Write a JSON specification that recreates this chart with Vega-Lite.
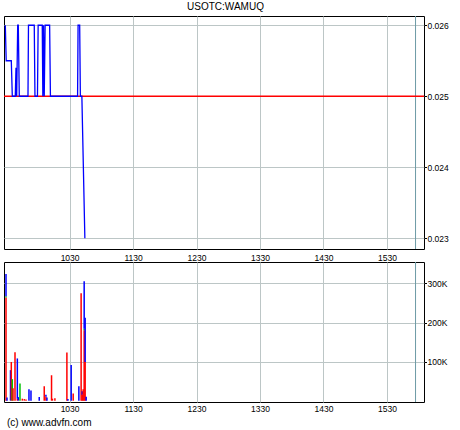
{
  "$schema": "https://vega.github.io/schema/vega-lite/v6.json",
  "padding": {"left": 2, "top": 2, "right": 0, "bottom": 0},
  "background": "white",
  "title": {"text": "USOTC:WAMUQ", "font": "Liberation Sans", "fontSize": 10, "fontWeight": "normal", "color": "black", "offset": 3, "anchor": "middle"},
  "spacing": -2,
  "config": {
    "view": {"stroke": "black", "strokeWidth": 1},
    "axis": {"labelFont": "Liberation Sans", "labelFontSize": 8.5, "labelColor": "black", "gridColor": "#bcc6c6", "gridOpacity": 1, "gridWidth": 1, "domain": false, "tickColor": "black", "title": null}
  },
  "datasets": {
    "price": [
      {"time": "2008-10-01T09:29:15", "price": 0.026},
      {"time": "2008-10-01T09:30:05", "price": 0.0255},
      {"time": "2008-10-01T09:34:54", "price": 0.0255},
      {"time": "2008-10-01T09:35:51", "price": 0.025},
      {"time": "2008-10-01T09:38:40", "price": 0.025},
      {"time": "2008-10-01T09:39:20", "price": 0.0254},
      {"time": "2008-10-01T09:40:00", "price": 0.025},
      {"time": "2008-10-01T09:40:57", "price": 0.026},
      {"time": "2008-10-01T09:41:31", "price": 0.026},
      {"time": "2008-10-01T09:42:27", "price": 0.025},
      {"time": "2008-10-01T09:50:40", "price": 0.025},
      {"time": "2008-10-01T09:51:08", "price": 0.026},
      {"time": "2008-10-01T09:56:36", "price": 0.026},
      {"time": "2008-10-01T09:57:16", "price": 0.025},
      {"time": "2008-10-01T09:59:38", "price": 0.025},
      {"time": "2008-10-01T10:00:17", "price": 0.026},
      {"time": "2008-10-01T10:04:09", "price": 0.026},
      {"time": "2008-10-01T10:04:43", "price": 0.025},
      {"time": "2008-10-01T10:05:23", "price": 0.026},
      {"time": "2008-10-01T10:06:02", "price": 0.025},
      {"time": "2008-10-01T10:06:53", "price": 0.026},
      {"time": "2008-10-01T10:11:08", "price": 0.026},
      {"time": "2008-10-01T10:11:53", "price": 0.025},
      {"time": "2008-10-01T10:37:33", "price": 0.025},
      {"time": "2008-10-01T10:38:01", "price": 0.026},
      {"time": "2008-10-01T10:39:32", "price": 0.026},
      {"time": "2008-10-01T10:40:11", "price": 0.025},
      {"time": "2008-10-01T10:41:36", "price": 0.025},
      {"time": "2008-10-01T10:44:26", "price": 0.023}
    ],
    "volume": [
      {"time": "2008-10-01T09:29:54", "tick": "down", "volume": 264000},
      {"time": "2008-10-01T09:29:54", "tick": "neutral", "volume": 3000},
      {"time": "2008-10-01T09:29:54", "tick": "up", "volume": 57000},
      {"time": "2008-10-01T09:30:51", "tick": "up", "volume": 8000},
      {"time": "2008-10-01T09:34:09", "tick": "up", "volume": 78000},
      {"time": "2008-10-01T09:34:54", "tick": "down", "volume": 99000},
      {"time": "2008-10-01T09:35:51", "tick": "neutral", "volume": 55000},
      {"time": "2008-10-01T09:36:30", "tick": "down", "volume": 32000},
      {"time": "2008-10-01T09:38:24", "tick": "down", "volume": 124000},
      {"time": "2008-10-01T09:40:36", "tick": "down", "volume": 5000},
      {"time": "2008-10-01T09:40:36", "tick": "up", "volume": 103000},
      {"time": "2008-10-01T09:41:30", "tick": "up", "volume": 9000},
      {"time": "2008-10-01T09:43:06", "tick": "neutral", "volume": 44000},
      {"time": "2008-10-01T09:45:18", "tick": "down", "volume": 5000},
      {"time": "2008-10-01T09:47:12", "tick": "down", "volume": 4000},
      {"time": "2008-10-01T09:48:48", "tick": "down", "volume": 3000},
      {"time": "2008-10-01T09:51:36", "tick": "up", "volume": 29000},
      {"time": "2008-10-01T09:53:30", "tick": "up", "volume": 26000},
      {"time": "2008-10-01T10:01:18", "tick": "up", "volume": 9000},
      {"time": "2008-10-01T10:06:02", "tick": "down", "volume": 37000},
      {"time": "2008-10-01T10:07:38", "tick": "down", "volume": 10000},
      {"time": "2008-10-01T10:07:38", "tick": "up", "volume": 5000},
      {"time": "2008-10-01T10:08:35", "tick": "up", "volume": 8000},
      {"time": "2008-10-01T10:12:56", "tick": "down", "volume": 65000},
      {"time": "2008-10-01T10:13:47", "tick": "down", "volume": 5000},
      {"time": "2008-10-01T10:16:07", "tick": "down", "volume": 6000},
      {"time": "2008-10-01T10:27:27", "tick": "down", "volume": 123000},
      {"time": "2008-10-01T10:28:24", "tick": "up", "volume": 4000},
      {"time": "2008-10-01T10:31:30", "tick": "up", "volume": 91000},
      {"time": "2008-10-01T10:33:24", "tick": "down", "volume": 18000},
      {"time": "2008-10-01T10:38:46", "tick": "up", "volume": 37000},
      {"time": "2008-10-01T10:40:54", "tick": "down", "volume": 275000},
      {"time": "2008-10-01T10:41:56", "tick": "down", "volume": 15000},
      {"time": "2008-10-01T10:41:56", "tick": "up", "volume": 9000},
      {"time": "2008-10-01T10:42:50", "tick": "down", "volume": 29000},
      {"time": "2008-10-01T10:43:47", "tick": "down", "volume": 180000},
      {"time": "2008-10-01T10:43:47", "tick": "neutral", "volume": 4000},
      {"time": "2008-10-01T10:43:47", "tick": "up", "volume": 122000},
      {"time": "2008-10-01T10:44:43", "tick": "down", "volume": 99000},
      {"time": "2008-10-01T10:44:43", "tick": "up", "volume": 113000},
      {"time": "2008-10-01T10:45:40", "tick": "up", "volume": 10000}
    ],
    "close": [{"price": 0.025}],
    "marker": [{"time": "2008-10-01T15:57:00"}]
  },
  "vconcat": [
    {
      "width": 420,
      "height": 233,
      "layer": [
        {
          "data": {"name": "marker"},
          "mark": {"type": "rule", "color": "#6d9aa6", "strokeWidth": 1},
          "encoding": {
            "x": {"field": "time", "type": "temporal",
              "scale": {"domain": [{"year": 2008, "month": 10, "date": 1, "hours": 9, "minutes": 28}, {"year": 2008, "month": 10, "date": 1, "hours": 16, "minutes": 5}], "padding": 0},
              "axis": {"values": [
                {"year": 2008, "month": 10, "date": 1, "hours": 10, "minutes": 30},
                {"year": 2008, "month": 10, "date": 1, "hours": 11, "minutes": 30},
                {"year": 2008, "month": 10, "date": 1, "hours": 12, "minutes": 30},
                {"year": 2008, "month": 10, "date": 1, "hours": 13, "minutes": 30},
                {"year": 2008, "month": 10, "date": 1, "hours": 14, "minutes": 30},
                {"year": 2008, "month": 10, "date": 1, "hours": 15, "minutes": 30}
              ], "format": "%H%M", "ticks": false, "labelPadding": 4, "grid": true}}
          }
        },
        {
          "data": {"name": "close"},
          "mark": {"type": "rule", "color": "#ff0000", "strokeWidth": 1.5},
          "encoding": {
            "y": {"field": "price", "type": "quantitative",
              "scale": {"domain": [0.02285, 0.02613], "nice": false, "zero": false},
              "axis": {"orient": "right", "values": [0.023, 0.024, 0.025, 0.026], "format": ".3f", "tickSize": 2.5, "labelPadding": 0.5, "grid": true}}
          }
        },
        {
          "data": {"name": "price"},
          "mark": {"type": "line", "color": "#0000ff", "strokeWidth": 1.3},
          "encoding": {
            "x": {"field": "time", "type": "temporal"},
            "y": {"field": "price", "type": "quantitative"}
          }
        }
      ]
    },
    {
      "width": 420,
      "height": 140,
      "title": {"text": "(c) www.advfn.com", "orient": "bottom", "anchor": "start", "frame": "group", "font": "Liberation Sans", "fontSize": 10, "fontWeight": "normal", "color": "black", "offset": 5, "dx": 3},
      "layer": [
        {
          "data": {"name": "marker"},
          "mark": {"type": "rule", "color": "#6d9aa6", "strokeWidth": 1},
          "encoding": {
            "x": {"field": "time", "type": "temporal",
              "scale": {"domain": [{"year": 2008, "month": 10, "date": 1, "hours": 9, "minutes": 28}, {"year": 2008, "month": 10, "date": 1, "hours": 16, "minutes": 5}], "padding": 0},
              "axis": {"values": [
                {"year": 2008, "month": 10, "date": 1, "hours": 10, "minutes": 30},
                {"year": 2008, "month": 10, "date": 1, "hours": 11, "minutes": 30},
                {"year": 2008, "month": 10, "date": 1, "hours": 12, "minutes": 30},
                {"year": 2008, "month": 10, "date": 1, "hours": 13, "minutes": 30},
                {"year": 2008, "month": 10, "date": 1, "hours": 14, "minutes": 30},
                {"year": 2008, "month": 10, "date": 1, "hours": 15, "minutes": 30}
              ], "format": "%H%M", "ticks": false, "labelPadding": 2, "grid": true}}
          }
        },
        {
          "data": {"name": "volume"},
          "mark": {"type": "bar", "size": 1.5},
          "encoding": {
            "x": {"field": "time", "type": "temporal"},
            "y": {"field": "volume", "type": "quantitative", "stack": "zero",
              "scale": {"domain": [-3500, 355000], "nice": false, "zero": false},
              "axis": {"orient": "right", "values": [100000, 200000, 300000], "labelExpr": "datum.value / 1000 + 'K'", "tickSize": 2.5, "labelPadding": 0.5, "grid": true}},
            "color": {"field": "tick", "type": "nominal", "scale": {"domain": ["down", "neutral", "up"], "range": ["#ff0000", "#00c000", "#0000ff"]}, "legend": null},
            "order": {"field": "tick", "sort": "ascending"}
          }
        }
      ]
    }
  ]
}
